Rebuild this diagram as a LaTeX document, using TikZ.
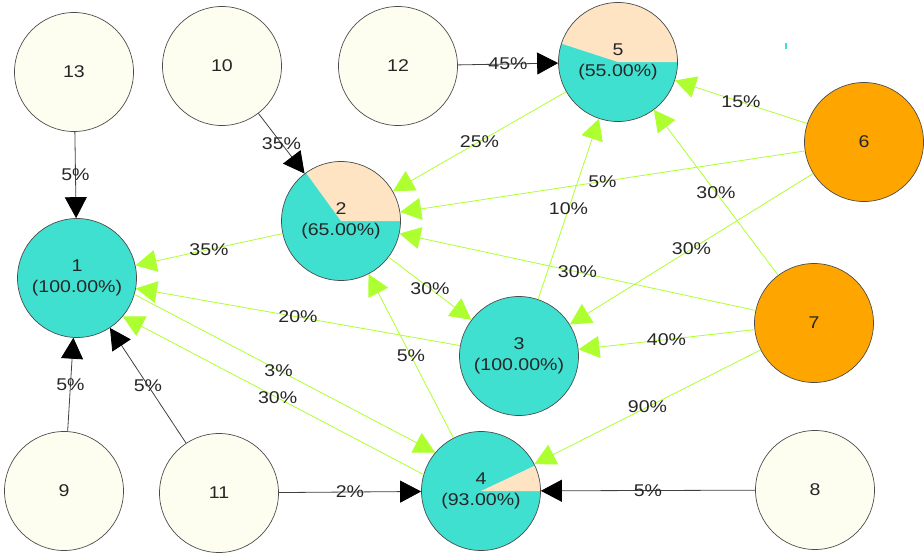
\documentclass[tikz,border=0pt]{standalone}
\usepackage{fontspec}
\setmainfont{Liberation Sans}[FakeStretch=1.15]
\usetikzlibrary{arrows.meta}
\definecolor{cyanfill}{HTML}{40E0D0}
\definecolor{peach}{HTML}{FFE4C4}
\definecolor{ivoryfill}{HTML}{FEFEF0}
\definecolor{orangefill}{HTML}{FFA500}
\definecolor{edgegreen}{HTML}{ADFF2F}
\tikzset{
  nd/.style={circle, draw=black!70, line width=0.7pt, minimum size=119pt, inner sep=0pt,
    font=\fontsize{17}{21}\selectfont, text=black!85, align=center},
  plainnd/.style={nd, fill=ivoryfill},
  hotnd/.style={nd, fill=orangefill},
  fullnd/.style={nd, fill=cyanfill},
  pienode/.style={nd},
  blk/.style={draw=black!75, line width=0.8pt, -{Triangle[length=21pt,width=22pt,color=black]}},
  grn/.style={draw=edgegreen, line width=0.8pt, -{Triangle[length=21pt,width=22pt,color=edgegreen]}},
  lab/.style={font=\fontsize{17}{21}\selectfont, text=black!85, inner sep=0pt}
}
\begin{document}
\begin{tikzpicture}[x=1pt,y=-1pt]
\useasboundingbox (0,0) rectangle (924,555);
% pie backgrounds
\fill[cyanfill] (618,62) circle (59.5);
\fill[peach] (618,62) -- ++(0:59.5) arc[start angle=0, end angle=-162, radius=59.5] -- cycle;
\fill[cyanfill] (341,221) circle (59.5);
\fill[peach] (341,221) -- ++(0:59.5) arc[start angle=0, end angle=-126, radius=59.5] -- cycle;
\fill[cyanfill] (481,491) circle (59.5);
\fill[peach] (481,491) -- ++(0:59.5) arc[start angle=0, end angle=-25.2, radius=59.5] -- cycle;
% small mark
\draw[cyanfill, line width=2pt] (786,43) -- (786,49);
% nodes
\node[plainnd] (n13) at (74,72) {13};
\node[plainnd] (n10) at (222,66) {10};
\node[plainnd] (n12) at (398,66) {12};
\node[pienode] (n5) at (618,62) {5\\(55.00\%)};
\node[hotnd] (n6) at (864,142) {6};
\node[pienode] (n2) at (341,221) {2\\(65.00\%)};
\node[fullnd] (n1) at (77,278) {1\\(100.00\%)};
\node[hotnd] (n7) at (814,323) {7};
\node[fullnd] (n3) at (519,356) {3\\(100.00\%)};
\node[plainnd] (n9) at (64,491) {9};
\node[plainnd] (n11) at (219,493) {11};
\node[pienode] (n4) at (481,491) {4\\(93.00\%)};
\node[plainnd] (n8) at (815,490) {8};
% black edges
\draw[blk] (n13) -- node[lab] {5\%} (n1);
\draw[blk] (n10) -- node[lab] {35\%} (n2);
\draw[blk] (n12) -- node[lab] {45\%} (n5);
\draw[blk] (n9) -- node[lab] {5\%} (n1);
\draw[blk] (n11) -- node[lab] {5\%} (n1);
\draw[blk] (n11) -- node[lab] {2\%} (n4);
\draw[blk] (n8) -- node[lab] {5\%} (n4);
% green edges
\draw[grn] (n6) -- node[lab] {15\%} (n5);
\draw[grn] (n6) -- node[lab] {5\%} (n2);
\draw[grn] (n6) -- node[lab] {30\%} (n3);
\draw[grn] (n7) -- node[lab] {30\%} (n5);
\draw[grn] (n7) -- node[lab] {30\%} (n2);
\draw[grn] (n7) -- node[lab] {40\%} (n3);
\draw[grn] (n7) -- node[lab] {90\%} (n4);
\draw[grn] (n5) -- node[lab] {25\%} (n2);
\draw[grn] (n3) -- node[lab] {10\%} (n5);
\draw[grn] (n2) -- node[lab] {35\%} (n1);
\draw[grn] (n2) -- node[lab] {30\%} (n3);
\draw[grn] (n3) -- node[lab] {20\%} (n1);
\draw[grn] (n4) -- node[lab] {5\%} (n2);
\draw[grn] (n1.-16) -- node[lab, pos=0.479] {3\%} (n4.140);
\draw[grn] (n4.164) -- node[lab, pos=0.485] {30\%} (n1.-40);
\end{tikzpicture}
\end{document}
